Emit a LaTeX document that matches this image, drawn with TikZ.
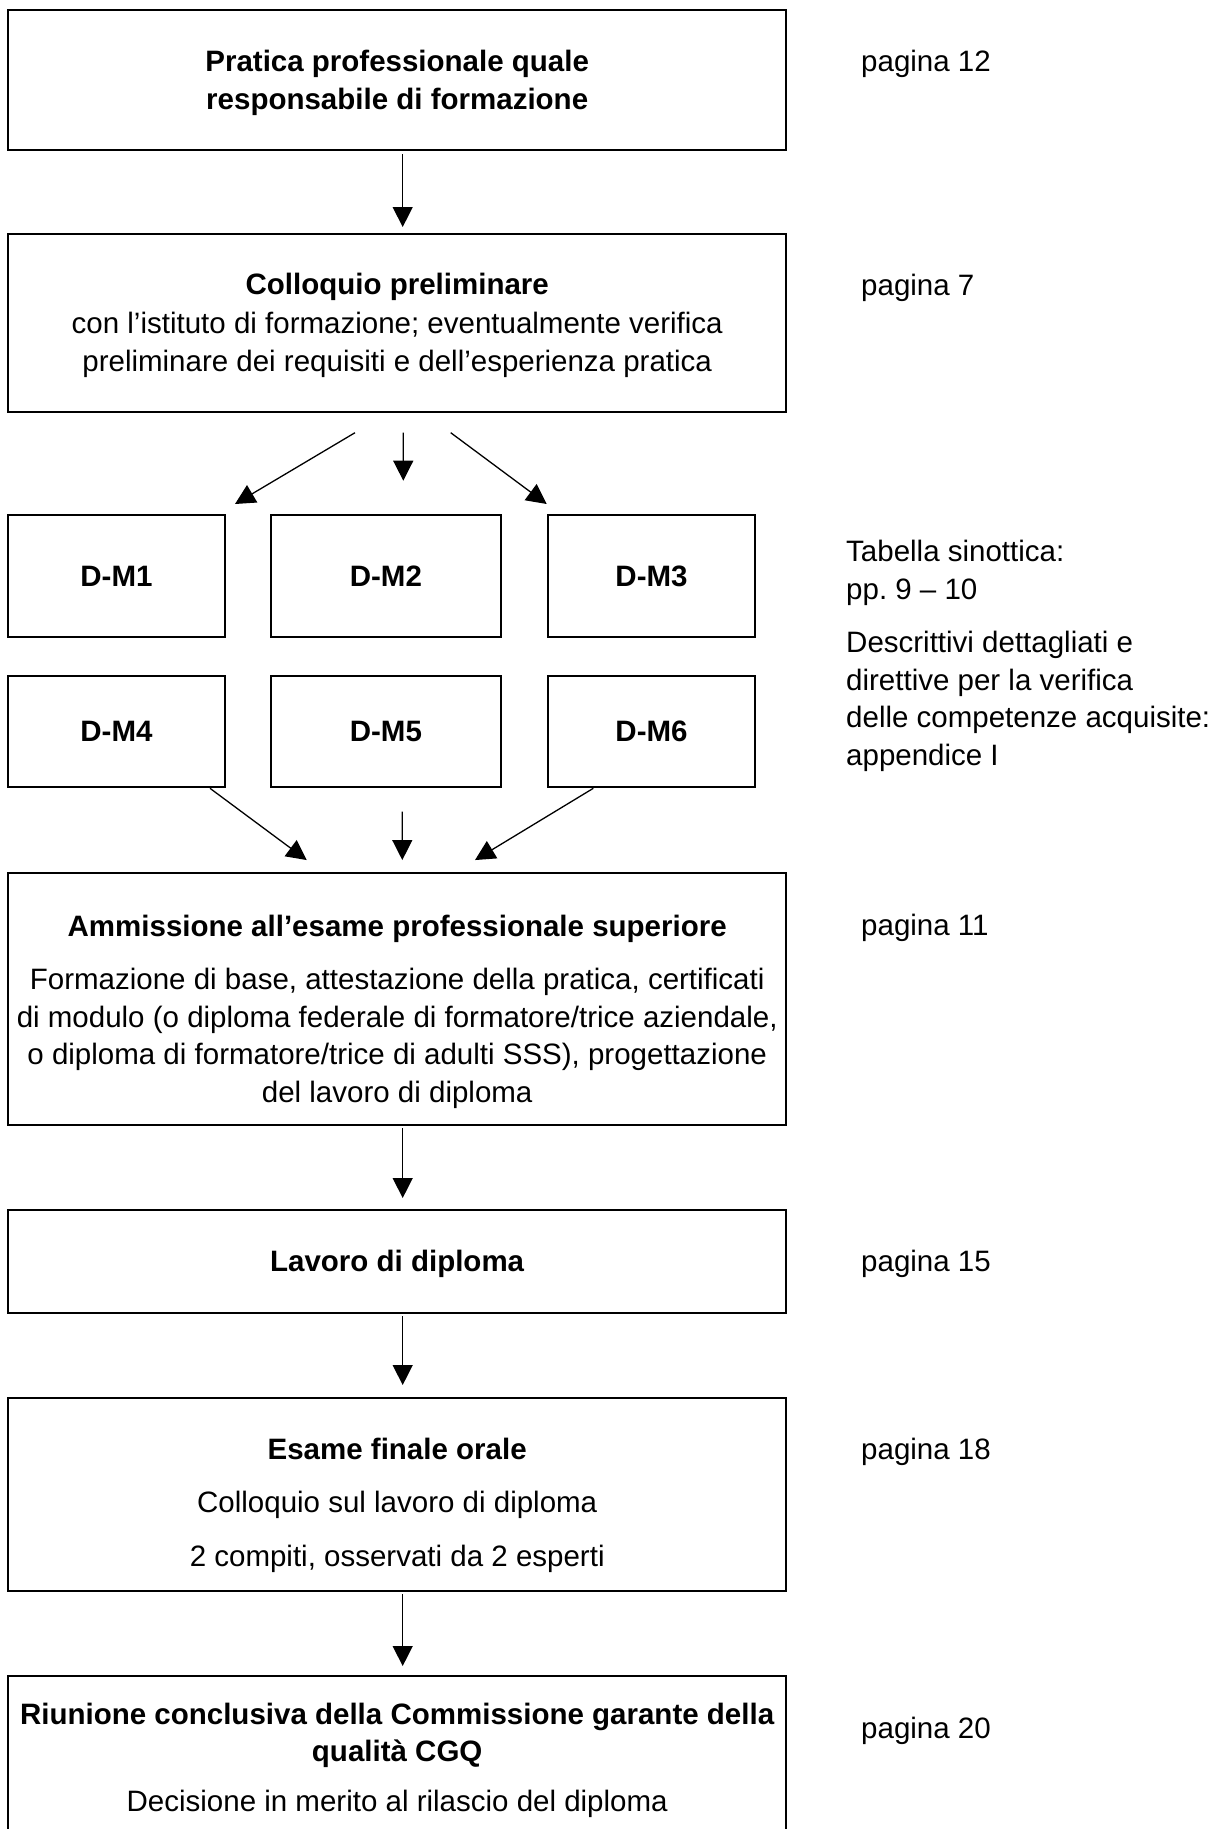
\documentclass[tikz,border=0pt]{standalone}
\usepackage{fontspec}
\setmainfont{Liberation Sans}
\usetikzlibrary{arrows.meta}
\newcommand\mytxt{\fontsize{29.5pt}{37.5pt}\selectfont}
\frenchspacing
\begin{document}
\begin{tikzpicture}[x=1pt,y=-1pt,
  box/.style={draw,line width=2pt,align=center,inner sep=0pt,font=\mytxt,minimum width=777.7pt},
  mod/.style={draw,line width=2pt,inner sep=0pt,font=\mytxt\bfseries},
  arr/.style={line width=1.3pt,-{Triangle[length=20pt,width=20pt]}},
  side/.style={anchor=base west,inner sep=0pt,font=\mytxt,align=left}]
\useasboundingbox (0,0) rectangle (1210,1829);
\clip (0,0) rectangle (1210,1829);
% main column
\node[box,minimum height=140pt,text height=65pt,text depth=7pt] (b1) at (397.2,80)
  {\textbf{Pratica professionale quale}\\\textbf{responsabile di formazione}};
\node[box,minimum height=178pt,text height=103pt,text depth=7pt] (b2) at (397.2,323)
  {\textbf{Colloquio preliminare}\\[2pt]con l’istituto di formazione; eventualmente verifica\\preliminare dei requisiti e dell’esperienza pratica};
% modules
\node[mod,minimum width=217pt,minimum height=122pt] (m1) at (116.5,576) {D-M1};
\node[mod,minimum width=230.3pt,minimum height=122pt] (m2) at (385.9,576) {D-M2};
\node[mod,minimum width=207.6pt,minimum height=122pt] (m3) at (651.5,576) {D-M3};
\node[mod,minimum width=217pt,minimum height=111.6pt] (m4) at (116.5,731.5) {D-M4};
\node[mod,minimum width=230.3pt,minimum height=111.6pt] (m5) at (385.9,731.5) {D-M5};
\node[mod,minimum width=207.6pt,minimum height=111.6pt] (m6) at (651.5,731.5) {D-M6};
\node[box,minimum height=252.3pt,text height=214pt,text depth=7pt] (adm) at (397.2,998.9)
  {\textbf{Ammissione all’esame professionale superiore}\\[16pt]Formazione di base, attestazione della pratica, certificati\\di modulo (o diploma federale di formatore/trice aziendale,\\o diploma di formatore/trice di adulti SSS), progettazione\\del lavoro di diploma};
\node[box,minimum height=103pt,text height=26pt,text depth=7pt] (lav) at (397.2,1261.5)
  {\textbf{Lavoro di diploma}};
\node[box,minimum height=193pt,text height=150pt,text depth=7pt] (esa) at (397.2,1494.5)
  {\textbf{Esame finale orale}\\[16pt]Colloquio sul lavoro di diploma\\[16pt]2 compiti, osservati da 2 esperti};
\node[box,minimum height=164pt,text height=113pt,text depth=7pt] (riu) at (397.2,1758)
  {\textbf{Riunione conclusiva della Commissione garante della}\\\textbf{qualità CGQ}\\[12pt]Decisione in merito al rilascio del diploma};
% connectors
\draw[arr] ([xshift=5.5pt,yshift=-3pt]b1.south) -- ([xshift=5.5pt,yshift=6pt]b2.north);
\draw[arr] ([xshift=-42.2pt,yshift=-19.7pt]b2.south) -- ([xshift=9pt,yshift=10pt]m1.north east);
\draw[arr] ([xshift=6pt,yshift=-19.7pt]b2.south) -- ([xshift=17.4pt,yshift=33.3pt]m2.north);
\draw[arr] ([xshift=53.5pt,yshift=-19.7pt]b2.south) -- ([yshift=10pt]m3.north west);
\draw[arr] ([xshift=-16pt]m4.south east) -- ([xshift=-90.5pt,yshift=11.7pt]adm.north);
\draw[arr] ([xshift=16.4pt,yshift=-23.4pt]m5.south) -- ([xshift=5.1pt,yshift=11.7pt]adm.north);
\draw[arr] ([xshift=46.6pt]m6.south west) -- ([xshift=77.8pt,yshift=11.7pt]adm.north);
\draw[arr] ([xshift=5.5pt,yshift=-2pt]adm.south) -- ([xshift=5.5pt,yshift=11pt]lav.north);
\draw[arr] ([xshift=5.5pt,yshift=-2pt]lav.south) -- ([xshift=5.5pt,yshift=12pt]esa.north);
\draw[arr] ([xshift=5.5pt,yshift=-2pt]esa.south) -- ([xshift=5.5pt,yshift=9pt]riu.north);
% side notes
\node[side] (p12) at (861,71) {pagina 12};
\node[side] (p7) at (861,295) {pagina 7};
\node[side] (tab1) at (846,599) {Tabella sinottica:\\pp. 9 – 10};
\node[side] (tab2) at (846,765) {Descrittivi dettagliati e\\direttive per la verifica\\delle competenze acquisite:\\appendice I};
\node[side] (p11) at (861,935) {pagina 11};
\node[side] (p15) at (861,1271) {pagina 15};
\node[side] (p18) at (861,1459) {pagina 18};
\node[side] (p20) at (861,1738) {pagina 20};
\end{tikzpicture}
\end{document}
